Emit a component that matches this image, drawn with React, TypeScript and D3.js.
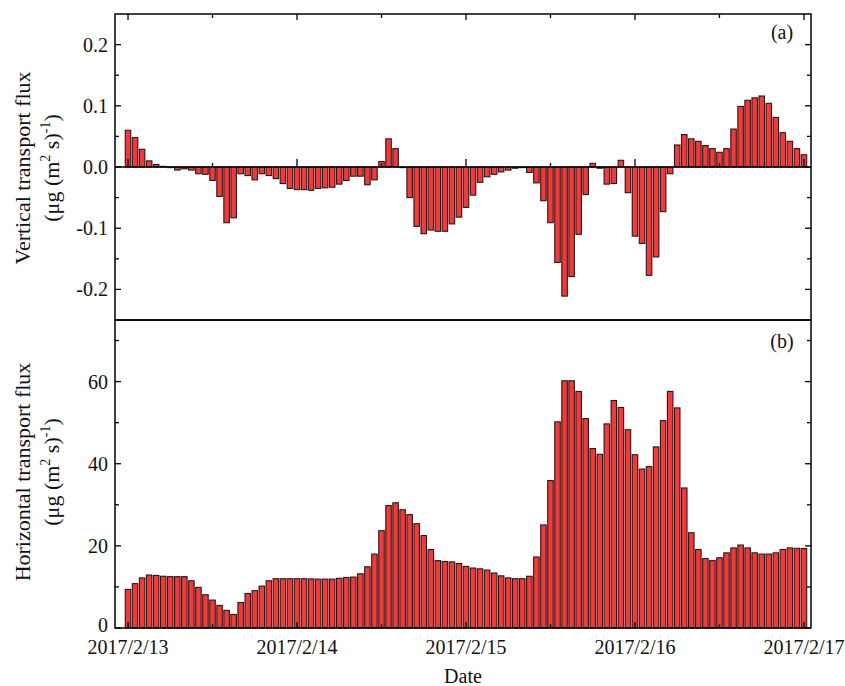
import React, { useEffect, useRef } from "react";
import * as d3 from "d3";

// Hourly values from 2017/2/13 00:00 to 2017/2/17 00:00 (97 bars)
const verticalFlux: number[] = [
  0.060, 0.048, 0.029, 0.010, 0.004, 0.001, -0.001, -0.005, -0.003, -0.005,
  -0.011, -0.012, -0.022, -0.048, -0.091, -0.083, -0.011, -0.014, -0.021, -0.011,
  -0.014, -0.019, -0.027, -0.035, -0.037, -0.037, -0.038, -0.035, -0.034, -0.033,
  -0.028, -0.022, -0.015, -0.015, -0.029, -0.021, 0.009, 0.046, 0.030, -0.001,
  -0.050, -0.097, -0.109, -0.103, -0.105, -0.105, -0.093, -0.082, -0.066, -0.046,
  -0.025, -0.016, -0.012, -0.008, -0.005, -0.002, -0.001, -0.009, -0.026, -0.055,
  -0.091, -0.156, -0.211, -0.179, -0.110, -0.045, 0.006, -0.002, -0.028, -0.027,
  0.011, -0.042, -0.113, -0.125, -0.177, -0.147, -0.073, -0.011, 0.036, 0.053,
  0.046, 0.042, 0.035, 0.030, 0.024, 0.030, 0.062, 0.099, 0.109, 0.113,
  0.116, 0.104, 0.081, 0.056, 0.042, 0.030, 0.020,
];

const horizontalFlux: number[] = [
  9.4, 10.8, 12.2, 12.9, 12.8, 12.6, 12.5, 12.5, 12.5, 11.5,
  9.9, 8.1, 6.8, 5.5, 4.3, 3.3, 6.2, 8.4, 9.1, 10.2,
  11.5, 12.0, 12.0, 12.0, 12.0, 12.0, 11.95, 11.9, 11.9, 11.9,
  12.1, 12.3, 12.4, 13.2, 14.9, 18.0, 23.7, 29.8, 30.5, 28.8,
  27.6, 25.4, 22.5, 19.1, 16.4, 16.2, 16.1, 15.7, 15.0, 14.6,
  14.4, 14.1, 13.4, 12.7, 12.2, 12.0, 12.0, 12.6, 17.3, 25.1,
  35.9, 50.2, 60.2, 60.2, 57.6, 51.0, 43.7, 42.3, 49.7, 55.4,
  53.7, 48.3, 42.2, 38.7, 39.3, 44.1, 50.5, 57.6, 53.6, 34.1,
  23.2, 19.1, 16.9, 16.4, 17.1, 18.3, 19.5, 20.2, 19.5, 18.3,
  18.0, 18.0, 18.3, 19.1, 19.5, 19.4, 19.35,
];

const dayTicks: Date[] = [
  new Date(2017, 1, 13), new Date(2017, 1, 14), new Date(2017, 1, 15),
  new Date(2017, 1, 16), new Date(2017, 1, 17),
];
const dayLabels: string[] = ["2017/2/13", "2017/2/14", "2017/2/15", "2017/2/16", "2017/2/17"];
const vTicks: number[] = [-0.2, -0.1, 0.0, 0.1, 0.2];
const vTickLabels: string[] = ["-0.2", "-0.1", "0.0", "0.1", "0.2"];
const vMinor: number[] = [-0.15, -0.05, 0.05, 0.15];
const hTicks: number[] = [0, 20, 40, 60];
const hMinor: number[] = [10, 30, 50, 70];

const W = 845;
const H = 686;
const L = 115;
const R = 811;
const T1 = 14;
const B1 = 320;
const B2 = 628;
const FONT = "'Liberation Serif', 'Times New Roman', serif";
const BAR_FILL = "#ff3535";
const BAR_STROKE = "#1c1c1c";

export default function App() {
  const ref = useRef<SVGSVGElement | null>(null);

  useEffect(() => {
    const svg = d3.select(ref.current!);
    svg.selectAll("*").remove();

    const start = new Date(2017, 1, 13);
    const times = verticalFlux.map((_, i) => new Date(start.getTime() + i * 3600e3));
    const x = d3
      .scaleTime()
      .domain([new Date(2017, 1, 12, 22, 9), new Date(2017, 1, 17, 1, 0)])
      .range([L, R]);
    const step = x(times[1]) - x(times[0]);
    const bw = step * 0.78;

    const y1 = d3.scaleLinear().domain([-0.25, 0.25]).range([B1, T1]);
    const y2 = d3.scaleLinear().domain([0, 75]).range([B2, B1]);

    const halfDays: Date[] = [];
    for (let i = 0; i < 8; i++) halfDays.push(new Date(2017, 1, 13, 12 + i * 12));
    const minorX = halfDays.filter((d) => d.getHours() === 12);

    // Top panel bars
    const g1 = svg.append("g");
    g1.selectAll("rect")
      .data(verticalFlux)
      .join("rect")
      .attr("x", (_, i) => x(times[i]) - bw / 2)
      .attr("width", bw)
      .attr("y", (d) => Math.min(y1(d), y1(0)))
      .attr("height", (d) => Math.max(Math.abs(y1(d) - y1(0)), 0.6))
      .attr("fill", BAR_FILL)
      .attr("stroke", BAR_STROKE)
      .attr("stroke-width", 1.1);

    // zero line
    svg.append("line")
      .attr("x1", L).attr("x2", R).attr("y1", y1(0)).attr("y2", y1(0))
      .attr("stroke", "#000").attr("stroke-width", 1.3);
    // ticks on zero line
    dayTicks.forEach((d) => {
      svg.append("line").attr("x1", x(d)).attr("x2", x(d))
        .attr("y1", y1(0)).attr("y2", y1(0) - 8).attr("stroke", "#000").attr("stroke-width", 1.3);
    });
    minorX.forEach((d) => {
      svg.append("line").attr("x1", x(d)).attr("x2", x(d))
        .attr("y1", y1(0)).attr("y2", y1(0) - 4).attr("stroke", "#000").attr("stroke-width", 1.3);
    });

    // Bottom panel bars
    const g2 = svg.append("g");
    g2.selectAll("rect")
      .data(horizontalFlux)
      .join("rect")
      .attr("x", (_, i) => x(times[i]) - bw / 2)
      .attr("width", bw)
      .attr("y", (d) => y2(d))
      .attr("height", (d) => y2(0) - y2(d))
      .attr("fill", BAR_FILL)
      .attr("stroke", BAR_STROKE)
      .attr("stroke-width", 1.1);

    // Frames
    svg.append("rect").attr("x", L).attr("y", T1).attr("width", R - L).attr("height", B1 - T1)
      .attr("fill", "none").attr("stroke", "#000").attr("stroke-width", 1.5);
    svg.append("rect").attr("x", L).attr("y", B1).attr("width", R - L).attr("height", B2 - B1)
      .attr("fill", "none").attr("stroke", "#000").attr("stroke-width", 1.5);

    const tick = (x1: number, y1v: number, x2: number, y2v: number) =>
      svg.append("line").attr("x1", x1).attr("y1", y1v).attr("x2", x2).attr("y2", y2v)
        .attr("stroke", "#000").attr("stroke-width", 1.3);

    // Y ticks (inward, both sides)
    vTicks.forEach((v) => { tick(L, y1(v), L + 6, y1(v)); tick(R, y1(v), R - 6, y1(v)); });
    vMinor.forEach((v) => { tick(L, y1(v), L + 4, y1(v)); tick(R, y1(v), R - 4, y1(v)); });
    hTicks.forEach((v) => { tick(L, y2(v), L + 6, y2(v)); tick(R, y2(v), R - 6, y2(v)); });
    hMinor.forEach((v) => { tick(L, y2(v), L + 4, y2(v)); tick(R, y2(v), R - 4, y2(v)); });

    // X ticks top frame & bottom axis
    dayTicks.forEach((d) => { tick(x(d), T1, x(d), T1 + 6); tick(x(d), B2, x(d), B2 - 6); });
    minorX.forEach((d) => { tick(x(d), T1, x(d), T1 + 4); tick(x(d), B2, x(d), B2 - 4); });

    const txt = (s: string, xx: number, yy: number, anchor: string, size = 20) =>
      svg.append("text").attr("x", xx).attr("y", yy).attr("text-anchor", anchor)
        .attr("font-family", FONT).attr("font-size", size).attr("fill", "#111").text(s);

    // Y tick labels
    vTicks.forEach((v, i) => txt(vTickLabels[i], 108, y1(v) + 7, "end"));
    hTicks.forEach((v) => txt(String(v), 108, y2(v) + (v === 0 ? 4 : 7), "end"));

    // X tick labels
    dayTicks.forEach((d, i) => txt(dayLabels[i], x(d), 654, "middle"));

    // Panel labels
    txt("(a)", 782, 39, "middle");
    txt("(b)", 782, 348, "middle");

    // Axis titles
    txt("Date", 463, 683, "middle");

    const yTitle = (line1: string, cy: number) => {
      svg.append("text")
        .attr("transform", `translate(30,${cy}) rotate(-90)`)
        .attr("text-anchor", "middle")
        .attr("font-family", FONT).attr("font-size", 22).attr("fill", "#111")
        .text(line1);
      const t2 = svg.append("text")
        .attr("transform", `translate(59,${cy}) rotate(-90)`)
        .attr("text-anchor", "middle")
        .attr("font-family", FONT).attr("font-size", 22).attr("fill", "#111");
      t2.append("tspan").text("(μg (m");
      t2.append("tspan").attr("dy", -9).attr("font-size", 14).text("2");
      t2.append("tspan").attr("dy", 9).text(" s)");
      t2.append("tspan").attr("dy", -9).attr("font-size", 14).text("-1");
      t2.append("tspan").attr("dy", 9).text(")");
    };
    yTitle("Vertical transport flux", 168);
    yTitle("Horizontal transport flux", 472);
  }, []);

  return (
    <svg
      ref={ref}
      width={W}
      height={H}
      style={{ position: "absolute", left: 0, top: 0, background: "#fff" }}
    />
  );
}
